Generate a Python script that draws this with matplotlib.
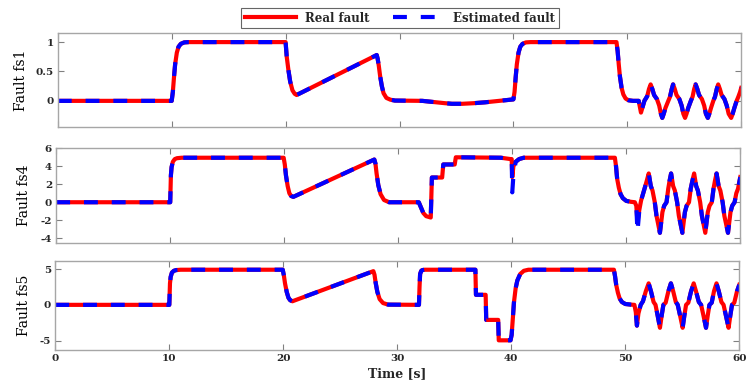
import matplotlib
matplotlib.use("Agg")
import matplotlib.pyplot as plt

# ---------------- data ----------------
t_fs1 = [0, 10.0, 10.1, 10.2, 10.3, 10.45, 10.6, 10.8, 11.1, 11.5,
         20.0, 20.1, 20.25, 20.4, 20.6, 20.8, 20.97,
         28.0, 28.08, 28.18, 28.3, 28.45, 28.6, 28.85, 29.2, 29.6,
         32.0, 33.0, 34.0, 34.6, 35.5, 36.5, 37.5, 38.5, 39.5, 40.0,
         40.1, 40.2, 40.3, 40.45, 40.6, 40.8, 41.1, 41.5,
         49.05, 49.15, 49.25, 49.35, 49.5, 49.65, 49.85, 50.1, 50.5,
         50.9, 51.0, 51.1, 51.2, 51.35, 51.5, 51.75, 51.9, 52.05,
         52.2, 52.35, 52.6, 52.8, 52.95, 53.07, 53.2, 53.35, 53.6, 53.75, 53.9, 54.02,
         54.17, 54.32, 54.57, 54.77, 54.92, 55.07, 55.2, 55.35, 55.58, 55.73, 55.87, 56.0,
         56.15, 56.3, 56.55, 56.75, 56.9, 57.07, 57.2, 57.35, 57.55, 57.7, 57.85, 57.98,
         58.13, 58.28, 58.53, 58.73, 58.9, 59.12, 59.25, 59.4, 59.6, 59.75, 59.9, 60.0]
real_fs1 = [0, 0, 0.15, 0.4, 0.62, 0.82, 0.92, 0.97, 0.995, 1.0,
            1.0, 0.75, 0.52, 0.33, 0.18, 0.12, 0.10,
            0.78, 0.72, 0.6, 0.42, 0.25, 0.13, 0.05, 0.02, 0.005,
            0.0, -0.02, -0.04, -0.05, -0.05, -0.04, -0.025, -0.005, 0.015, 0.025,
            0.15, 0.4, 0.62, 0.82, 0.92, 0.97, 0.995, 1.0,
            1.0, 0.85, 0.62, 0.42, 0.22, 0.11, 0.04, 0.01, 0.0,
            0.0, 0.0, -0.1, -0.2, -0.1, 0.0, 0.08, 0.2, 0.28,
            0.2, 0.1, 0.03, -0.08, -0.22, -0.29, -0.22, -0.12, 0.0, 0.07, 0.2, 0.28,
            0.2, 0.1, 0.03, -0.08, -0.22, -0.29, -0.22, -0.12, 0.0, 0.07, 0.2, 0.28,
            0.2, 0.1, 0.03, -0.08, -0.22, -0.29, -0.22, -0.12, 0.0, 0.07, 0.2, 0.28,
            0.2, 0.1, 0.03, -0.08, -0.22, -0.29, -0.22, -0.12, 0.0, 0.07, 0.15, 0.22]
est_fs1 = list(real_fs1)

t_fs4 = [0, 10.0, 10.06, 10.12, 10.23, 10.4, 10.6, 11.0,
         19.95, 20.05, 20.15, 20.3, 20.45, 20.6, 20.8,
         27.9, 28.0, 28.1, 28.25, 28.45, 28.75, 29.2,
         31.8, 32.0, 32.2, 32.45, 32.85, 32.95, 33.85, 33.95, 34.95, 35.05,
         39.0, 39.85, 39.95, 40.0, 40.1, 40.3, 40.6, 41.0,
         49.0, 49.1, 49.2, 49.35, 49.5, 49.7, 50.0, 50.4,
         50.75, 50.88, 50.98, 51.15, 51.3, 51.6, 51.8, 51.97,
         52.15, 52.3, 52.5, 52.65, 52.95, 53.17, 53.32, 53.53, 53.68, 53.8, 53.93,
         54.11, 54.26, 54.46, 54.61, 54.92, 55.14, 55.29, 55.5, 55.65, 55.8, 55.95,
         56.13, 56.28, 56.48, 56.63, 56.93, 57.15, 57.3, 57.5, 57.65, 57.78, 57.92,
         58.1, 58.25, 58.45, 58.6, 58.92, 59.14, 59.29, 59.5, 59.65, 59.8, 60.0]
real_fs4 = [0, 0, 3.0, 3.9, 4.5, 4.8, 4.9, 4.95,
            4.95, 4.2, 3.0, 1.8, 1.0, 0.7, 0.6,
            4.75, 4.3, 3.2, 1.9, 0.9, 0.25, 0.0,
            0.0, -0.6, -1.2, -1.55, -1.7, 2.75, 2.75, 4.2, 4.2, 5.0,
            4.95, 4.8, 4.8, 2.8, 4.0, 4.5, 4.8, 4.95,
            4.95, 4.0, 2.6, 1.6, 0.9, 0.45, 0.15, 0.05,
            0.0, -0.4, -2.2, -0.8, 0.2, 1.5, 2.4, 3.2,
            1.8, 1.3, 0.0, -1.5, -3.4, -1.1, -0.4, 0.0, 1.5, 2.4, 3.2,
            1.8, 1.3, 0.0, -1.5, -3.4, -1.1, -0.4, 0.0, 1.5, 2.4, 3.2,
            1.8, 1.3, 0.0, -1.5, -3.4, -1.1, -0.4, 0.0, 1.5, 2.4, 3.2,
            1.8, 1.3, 0.0, -1.5, -3.4, -1.1, -0.4, 0.0, 1.0, 1.5, 2.8]
est_fs4 = [0, 0, 3.0, 3.9, 4.5, 4.8, 4.9, 4.95,
           4.95, 4.2, 3.0, 1.8, 1.0, 0.7, 0.6,
           4.75, 4.3, 3.2, 1.9, 0.9, 0.25, 0.0,
           0.0, -0.6, -1.2, -1.55, -1.7, 2.75, 2.75, 4.2, 4.2, 5.0,
           4.95, 4.8, 4.8, 1.1, 3.0, 4.5, 4.8, 4.95,
           4.95, 4.0, 2.6, 1.6, 0.9, 0.45, 0.15, 0.05,
           0.0, -0.4, -3.3, -0.8, 0.2, 1.5, 2.4, 3.2,
           1.8, 1.3, 0.0, -1.5, -3.4, -1.1, -0.4, 0.0, 1.5, 2.4, 3.2,
           1.8, 1.3, 0.0, -1.5, -3.4, -1.1, -0.4, 0.0, 1.5, 2.4, 3.2,
           1.8, 1.3, 0.0, -1.5, -3.4, -1.1, -0.4, 0.0, 1.5, 2.4, 3.2,
           1.8, 1.3, 0.0, -1.5, -3.4, -1.1, -0.4, 0.0, 1.0, 1.5, 2.8]

t_fs5 = [0, 10.0, 10.06, 10.12, 10.23, 10.4, 10.6, 11.0,
         19.95, 20.05, 20.15, 20.3, 20.45, 20.6, 20.8,
         27.9, 28.0, 28.1, 28.25, 28.45, 28.75, 29.2,
         31.9, 31.95, 32.0, 32.1, 32.2, 32.4,
         36.85, 36.9, 37.75, 37.8, 38.85, 38.9, 39.93,
         40.03, 40.13, 40.23, 40.38, 40.53, 40.78, 41.1, 41.5,
         49.0, 49.1, 49.2, 49.35, 49.5, 49.7, 50.0, 50.5,
         50.8, 50.92, 51.02, 51.15, 51.35, 51.55, 51.8, 52.05,
         52.25, 52.48, 52.65, 52.85, 53.04, 53.19, 53.34, 53.54, 53.78, 54.0,
         54.2, 54.43, 54.6, 54.82, 55.03, 55.18, 55.33, 55.53, 55.77, 56.0,
         56.2, 56.45, 56.65, 56.87, 57.08, 57.23, 57.38, 57.58, 57.78, 58.0,
         58.2, 58.43, 58.62, 58.84, 59.06, 59.21, 59.36, 59.56, 59.8, 60.0]
real_fs5 = [0, 0, 3.0, 3.9, 4.5, 4.75, 4.85, 4.9,
            4.9, 4.1, 3.0, 1.8, 1.0, 0.65, 0.5,
            4.7, 4.2, 3.1, 1.8, 0.8, 0.25, 0.03,
            0.0, 2.5, 4.3, 4.75, 4.85, 4.9,
            4.9, 1.4, 1.4, -2.1, -2.1, -4.95, -4.95,
            -4.2, -2.0, 0.3, 2.3, 3.4, 4.3, 4.75, 4.9,
            4.9, 4.0, 2.8, 1.7, 0.9, 0.4, 0.12, 0.03,
            0.0, -1.0, -2.9, -1.2, 0.0, 0.5, 1.9, 3.0,
            1.9, 0.4, 0.0, -1.6, -3.2, -1.5, 0.0, 0.3, 1.9, 3.0,
            1.9, 0.4, 0.0, -1.6, -3.2, -1.5, 0.0, 0.3, 1.9, 3.0,
            1.9, 0.4, 0.0, -1.6, -3.2, -1.5, 0.0, 0.3, 1.9, 3.0,
            1.9, 0.4, 0.0, -1.6, -3.2, -1.5, 0.0, 0.3, 1.9, 2.8]
est_fs5 = list(real_fs5)

x_ticks = [0, 10, 20, 30, 40, 50, 60]
y_ticks = [[0, 0.5, 1], [-4, -2, 0, 2, 4, 6], [-5, 0, 5]]
y_tick_labels = [["0", "0.5", "1"], ["-4", "-2", "0", "2", "4", "6"], ["-5", "0", "5"]]
y_limits = [(-0.45, 1.16), (-4.5, 6.0), (-6.3, 6.16)]
y_labels = ["Fault fs1", "Fault fs4", "Fault fs5"]
legend_labels = ["Real fault", "Estimated fault"]
x_label = "Time [s]"

# ---------------- style ----------------
plt.rcParams['lines.scale_dashes'] = False
W, H = 748, 381
fig = plt.figure(figsize=(W / 100, H / 100), dpi=100)

# axes boxes in pixels: (left, right, top, bottom)
boxes = [(57.8, 741.2, 32.7, 127.3), (56.2, 740.3, 148.3, 242.7), (55.3, 739.3, 260.7, 350.0)]
label_x = [-0.043, -0.037, -0.036]
series = [(t_fs1, real_fs1, est_fs1), (t_fs4, real_fs4, est_fs4), (t_fs5, real_fs5, est_fs5)]

spine_col = '#a6a6a6'
text_col = '#262626'
tick_font = dict(family='DejaVu Serif', weight='bold', size=7.5)

axes = []
for i, (l, r, tp, bt) in enumerate(boxes):
    ax = fig.add_axes([l / W, 1 - bt / H, (r - l) / W, (bt - tp) / H])
    t, re, es = series[i]
    lr, = ax.plot(t, re, color='red', lw=3.0, solid_joinstyle='round', label=legend_labels[0])
    le, = ax.plot(t, es, color='blue', lw=3.0, linestyle=(0, (10, 10)), label=legend_labels[1])
    ax.set_xlim(0, 60)
    ax.set_ylim(*y_limits[i])
    ax.set_xticks(x_ticks)
    ax.set_yticks(y_ticks[i])
    ax.set_yticklabels(y_tick_labels[i], fontdict=tick_font, color=text_col)
    if i == 2:
        ax.set_xticklabels([str(v) for v in x_ticks], fontdict=tick_font, color=text_col)
        ax.set_xlabel(x_label, family='DejaVu Serif', weight='bold', size=9, color=text_col, labelpad=3)
    else:
        ax.set_xticklabels([])
    ax.tick_params(direction='in', top=True, right=True, length=4, width=0.8,
                   color='#808080', pad=3)
    for s in ax.spines.values():
        s.set_color(spine_col)
        s.set_linewidth(1.0)
    ax.set_ylabel(y_labels[i], family='DejaVu Serif', size=10, color='black')
    ax.yaxis.set_label_coords(label_x[i], 0.5)
    axes.append(ax)
    if i == 0:
        handles = [lr, le]

leg = fig.legend(handles, legend_labels, loc='center', bbox_to_anchor=(400 / W, 1 - 18 / H),
                 ncol=2, frameon=True, fancybox=False, handlelength=4.3, handletextpad=0.8,
                 columnspacing=2.0, borderpad=0.3,
                 prop=dict(family='DejaVu Serif', weight='bold', size=8.5))
leg.get_frame().set_edgecolor('#404040')
leg.get_frame().set_linewidth(0.8)
for txt in leg.get_texts():
    txt.set_color(text_col)

fig.savefig('out.png', dpi=100)
